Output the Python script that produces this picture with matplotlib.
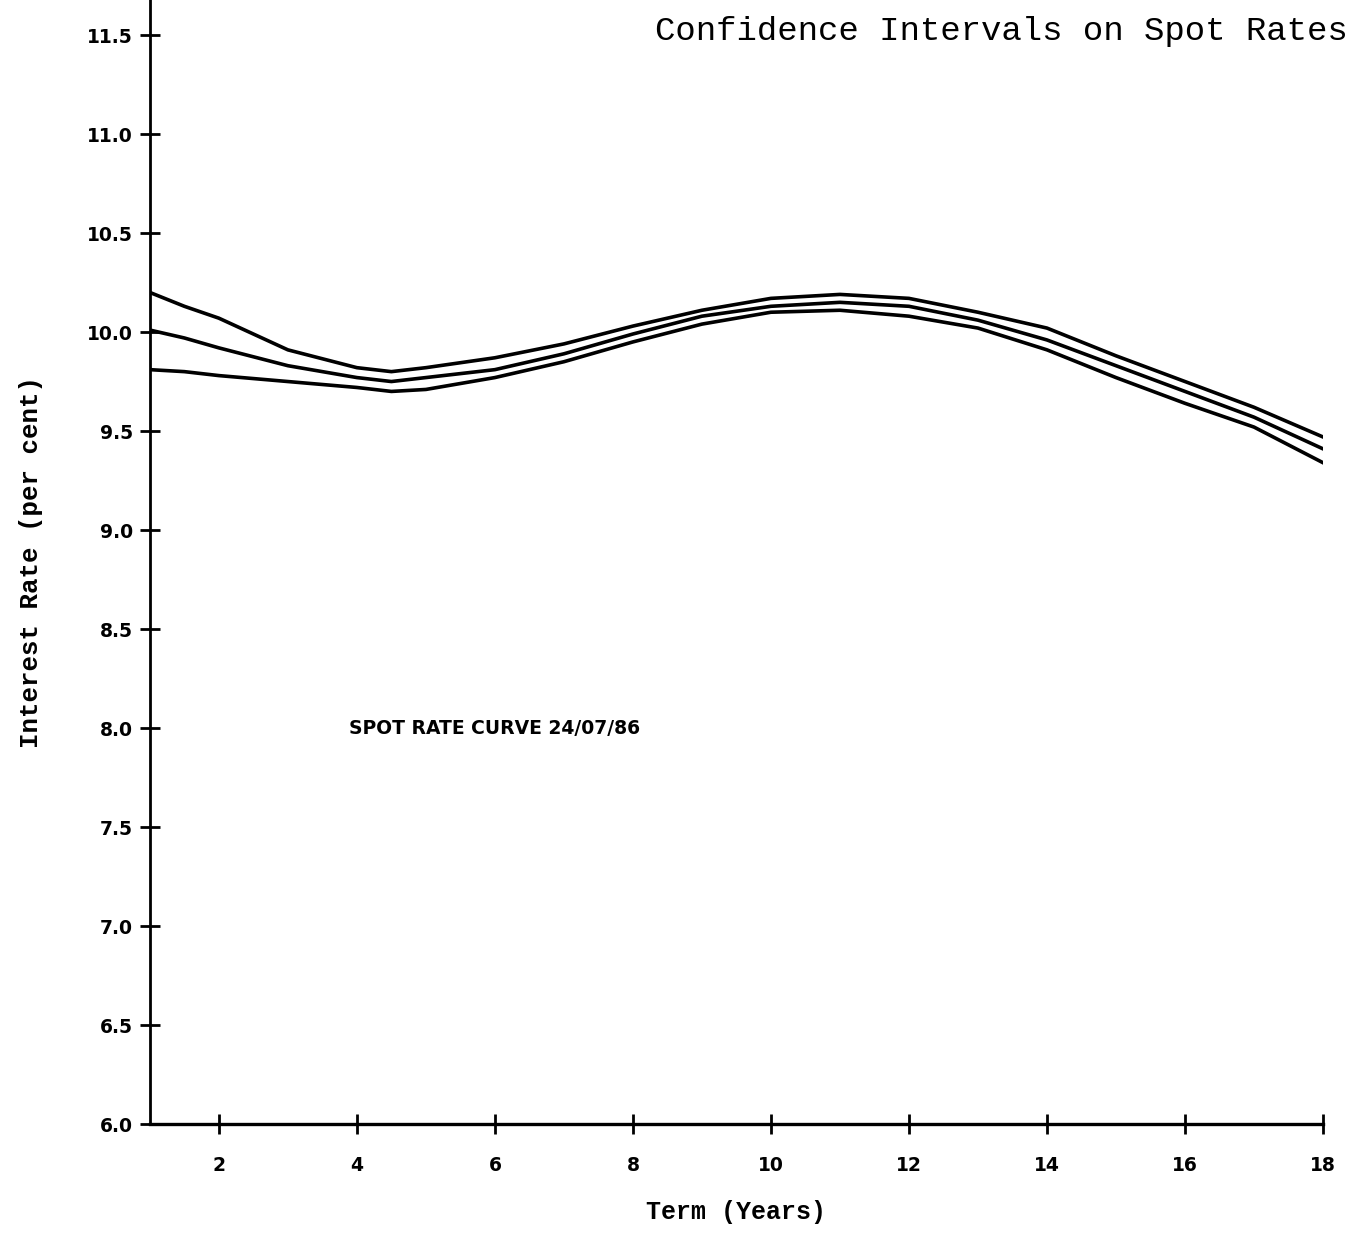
import numpy as np
import matplotlib.pyplot as plt

# ---------------------------------------------------------------------------
# Spot rate curve 24/07/86 with upper and lower confidence bands
# ---------------------------------------------------------------------------

term = [1, 1.5, 2, 3, 4, 4.5, 5, 6, 7, 8, 9, 10, 11, 12, 13, 14, 15, 16, 17, 18]
upper = [10.20, 10.13, 10.07, 9.91, 9.82, 9.80, 9.82, 9.87, 9.94, 10.03,
         10.11, 10.17, 10.19, 10.17, 10.10, 10.02, 9.88, 9.75, 9.62, 9.47]
spot = [10.01, 9.97, 9.92, 9.83, 9.77, 9.75, 9.77, 9.81, 9.89, 9.99,
        10.08, 10.13, 10.15, 10.13, 10.06, 9.96, 9.83, 9.70, 9.57, 9.41]
lower = [9.81, 9.80, 9.78, 9.75, 9.72, 9.70, 9.71, 9.77, 9.85, 9.95,
         10.04, 10.10, 10.11, 10.08, 10.02, 9.91, 9.77, 9.64, 9.52, 9.34]

x_ticks = [2, 4, 6, 8, 10, 12, 14, 16, 18]
y_ticks = [6.0, 6.5, 7.0, 7.5, 8.0, 8.5, 9.0, 9.5, 10.0, 10.5, 11.0, 11.5]

fig = plt.figure(figsize=(13.5, 12.33), dpi=100)
ax = fig.add_axes([0.111, 0.0884, 0.869, 0.9116])

for serie in (upper, spot, lower):
    ax.plot(term, serie, color="black", linewidth=2.6, solid_joinstyle="round")

ax.set_xlim(1, 18)
ax.set_ylim(6.0, 11.677)

ax.spines["top"].set_visible(False)
ax.spines["right"].set_visible(False)
ax.spines["left"].set_linewidth(2.0)
ax.spines["bottom"].set_linewidth(2.4)

ax.set_xticks(x_ticks)
ax.set_yticks(y_ticks)
ax.set_xticklabels([str(t) for t in x_ticks], fontsize=13.5, fontweight="bold")
ax.set_yticklabels([f"{v:.1f}" for v in y_ticks], fontsize=13.5, fontweight="bold")
ax.tick_params(axis="x", direction="inout", length=14, width=2, pad=16)
ax.tick_params(axis="y", direction="inout", length=14, width=2, pad=5)

ax.set_xlabel("Term (Years)", family="Liberation Mono", fontsize=18,
              fontweight="bold", labelpad=18)
ax.set_ylabel("Interest Rate (per cent)", family="Liberation Mono", fontsize=18.5,
              fontweight="bold", labelpad=32)

ax.text(3.89, 8.0, "SPOT RATE CURVE 24/07/86", fontsize=13.5, fontweight="bold",
        ha="left", va="center")

fig.text(0.998, 0.9676, "Confidence Intervals on Spot Rates",
         family="Liberation Mono", fontsize=24.5, ha="right", va="baseline")

fig.savefig("out.png", dpi=100)
